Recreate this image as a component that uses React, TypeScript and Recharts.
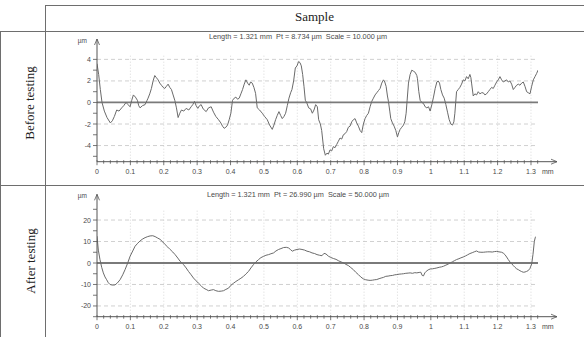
import React from 'react';
import { LineChart, Line, XAxis, YAxis, ReferenceLine } from 'recharts';

// ---------- data ----------
const xMajorTicks = [0, 0.1, 0.2, 0.3, 0.4, 0.5, 0.6, 0.7, 0.8, 0.9, 1, 1.1, 1.2, 1.3];
const xMinorTicks = [0, 0.02, 0.04, 0.06, 0.08, 0.1, 0.12, 0.14, 0.16, 0.18, 0.2, 0.22, 0.24, 0.26, 0.28, 0.3, 0.32, 0.34, 0.36, 0.38, 0.4, 0.42, 0.44, 0.46, 0.48, 0.5, 0.52, 0.54, 0.56, 0.58, 0.6, 0.62, 0.64, 0.66, 0.68, 0.7, 0.72, 0.74, 0.76, 0.78, 0.8, 0.82, 0.84, 0.86, 0.88, 0.9, 0.92, 0.94, 0.96, 0.98, 1, 1.02, 1.04, 1.06, 1.08, 1.1, 1.12, 1.14, 1.16, 1.18, 1.2, 1.22, 1.24, 1.26, 1.28, 1.3, 1.32];

const beforeYMajor = [-4, -2, 0, 2, 4];
const beforeYMinor = [-5, -4, -3, -2, -1, 0, 1, 2, 3, 4];
const beforeYRight = [-5.5, -4.5, -3.5, -2.5, -1.5, -0.5, 0.5, 1.5, 2.5, 3.5, 4.5];
const afterYMajor = [-20, -10, 0, 10, 20];
const afterYMinor = [-25, -20, -15, -10, -5, 0, 5, 10, 15, 20, 25];

const beforeTitle = 'Length = 1.321 mm  Pt = 8.734 µm  Scale = 10.000 µm';
const afterTitle = 'Length = 1.321 mm  Pt = 26.990 µm  Scale = 50.000 µm';

const beforeX = [0.000, 0.005, 0.010, 0.015, 0.022, 0.030, 0.040, 0.046, 0.052, 0.059, 0.066, 0.074, 0.080, 0.087, 0.093, 0.099, 0.104, 0.109, 0.115, 0.121, 0.125, 0.129, 0.136, 0.144, 0.150, 0.153, 0.158, 0.163, 0.168, 0.173, 0.178, 0.183, 0.188, 0.193, 0.198, 0.203, 0.208, 0.213, 0.218, 0.223, 0.228, 0.233, 0.238, 0.243, 0.248, 0.253, 0.260, 0.267, 0.275, 0.282, 0.287, 0.292, 0.297, 0.302, 0.307, 0.312, 0.318, 0.327, 0.334, 0.342, 0.349, 0.356, 0.364, 0.371, 0.376, 0.381, 0.386, 0.391, 0.396, 0.401, 0.406, 0.411, 0.416, 0.421, 0.426, 0.431, 0.436, 0.441, 0.446, 0.451, 0.456, 0.460, 0.465, 0.470, 0.475, 0.480, 0.487, 0.495, 0.502, 0.510, 0.517, 0.525, 0.530, 0.535, 0.540, 0.545, 0.550, 0.555, 0.560, 0.565, 0.570, 0.575, 0.580, 0.584, 0.589, 0.594, 0.599, 0.604, 0.608, 0.612, 0.616, 0.620, 0.624, 0.628, 0.634, 0.640, 0.645, 0.650, 0.655, 0.660, 0.664, 0.669, 0.673, 0.679, 0.684, 0.689, 0.693, 0.698, 0.703, 0.708, 0.713, 0.718, 0.723, 0.728, 0.733, 0.738, 0.743, 0.748, 0.753, 0.758, 0.763, 0.768, 0.773, 0.778, 0.783, 0.788, 0.793, 0.798, 0.803, 0.808, 0.813, 0.818, 0.823, 0.828, 0.833, 0.838, 0.843, 0.848, 0.853, 0.858, 0.862, 0.866, 0.870, 0.873, 0.877, 0.880, 0.885, 0.890, 0.895, 0.900, 0.904, 0.908, 0.913, 0.918, 0.922, 0.926, 0.929, 0.933, 0.938, 0.943, 0.948, 0.953, 0.958, 0.960, 0.964, 0.968, 0.973, 0.978, 0.983, 0.988, 0.993, 0.998, 1.003, 1.008, 1.013, 1.018, 1.022, 1.026, 1.030, 1.035, 1.040, 1.045, 1.050, 1.055, 1.060, 1.065, 1.069, 1.072, 1.077, 1.082, 1.087, 1.092, 1.097, 1.102, 1.107, 1.112, 1.117, 1.120, 1.122, 1.127, 1.132, 1.137, 1.142, 1.147, 1.152, 1.157, 1.162, 1.167, 1.172, 1.177, 1.182, 1.187, 1.192, 1.197, 1.202, 1.207, 1.212, 1.217, 1.222, 1.227, 1.232, 1.237, 1.242, 1.247, 1.252, 1.257, 1.262, 1.267, 1.272, 1.277, 1.282, 1.287, 1.292, 1.297, 1.302, 1.307, 1.312, 1.317, 1.321];
const beforeY = [3.6, 2.6, 1.2, 0.0, -0.8, -1.4, -1.9, -1.7, -1.3, -0.7, -0.8, -0.5, -0.3, 0.0, -0.2, -0.4, 0.2, 0.7, 0.5, 0.2, -0.3, -0.5, -0.3, -0.2, 0.2, 0.4, 0.8, 1.3, 2.0, 2.5, 2.3, 2.1, 1.8, 1.6, 1.4, 1.3, 1.5, 1.7, 1.4, 1.2, 0.7, 0.2, -0.5, -1.4, -1.0, -0.7, -0.8, -0.55, -0.7, -0.4, -0.2, 0.1, -0.3, -0.55, -0.3, -0.2, -0.6, -0.85, -0.5, -0.4, -0.9, -1.3, -1.6, -1.9, -2.2, -2.4, -2.3, -2.1, -1.6, -1.0, 0.2, 0.4, 0.5, 0.3, 0.4, 0.8, 1.2, 1.7, 2.1, 1.8, 1.6, 1.9, 1.8, 1.4, 0.85, -0.5, -0.7, -1.0, -1.3, -1.6, -2.1, -2.5, -2.1, -1.6, -1.2, -0.85, -1.2, -1.5, -1.3, -1.0, -0.3, 0.4, 0.9, 1.2, 2.0, 3.2, 3.4, 3.8, 3.7, 3.4, 2.6, 1.5, 0.2, 0.0, -0.5, -0.6, -1.0, -0.7, -0.2, -0.4, -1.6, -2.0, -2.6, -4.3, -4.9, -4.7, -4.8, -4.4, -4.5, -4.1, -4.2, -3.9, -3.6, -3.3, -3.4, -3.0, -2.9, -2.7, -2.3, -2.2, -1.8, -1.6, -1.5, -1.9, -2.2, -2.6, -2.8, -2.0, -1.5, -1.2, -1.0, -0.4, 0.1, 0.4, 0.7, 0.9, 1.1, 1.3, 1.8, 2.1, 1.9, 1.5, 0.6, 0.1, -0.8, -1.5, -1.9, -2.2, -2.6, -3.2, -2.8, -2.5, -2.3, -2.1, -1.8, -1.0, 0.2, 1.8, 2.6, 3.0, 2.9, 2.8, 2.5, 2.2, 1.0, 0.2, 0.0, -0.1, -0.4, -0.5, -0.4, -0.8, -0.2, 0.5, 1.3, 1.9, 2.0, 1.8, 1.2, 0.7, 0.4, -0.2, -0.9, -1.6, -2.0, -2.1, -1.8, -1.0, 1.0, 1.2, 1.4, 1.7, 2.1, 2.0, 2.4, 2.2, 2.6, 2.3, 1.8, 0.6, 0.8, 0.7, 1.0, 0.8, 0.9, 0.9, 0.7, 0.8, 1.0, 1.2, 1.4, 1.3, 1.6, 1.9, 2.1, 2.4, 2.1, 1.9, 2.0, 2.1, 1.9, 2.0, 1.7, 1.2, 1.4, 1.6, 1.7, 1.6, 1.8, 1.9, 1.5, 1.0, 0.9, 0.8, 1.5, 2.1, 2.4, 2.7, 3.0];

const afterX = [0.000, 0.004, 0.009, 0.014, 0.019, 0.024, 0.029, 0.034, 0.039, 0.046, 0.054, 0.061, 0.069, 0.077, 0.084, 0.092, 0.099, 0.107, 0.114, 0.122, 0.129, 0.137, 0.144, 0.152, 0.159, 0.167, 0.174, 0.182, 0.189, 0.197, 0.204, 0.212, 0.219, 0.227, 0.234, 0.242, 0.249, 0.259, 0.267, 0.274, 0.282, 0.289, 0.297, 0.304, 0.312, 0.319, 0.327, 0.334, 0.342, 0.349, 0.356, 0.364, 0.372, 0.379, 0.386, 0.394, 0.401, 0.409, 0.416, 0.424, 0.431, 0.439, 0.446, 0.454, 0.461, 0.469, 0.476, 0.484, 0.491, 0.499, 0.506, 0.514, 0.521, 0.529, 0.536, 0.544, 0.551, 0.559, 0.567, 0.574, 0.580, 0.585, 0.592, 0.599, 0.607, 0.614, 0.622, 0.629, 0.637, 0.644, 0.652, 0.659, 0.667, 0.674, 0.680, 0.686, 0.693, 0.700, 0.708, 0.716, 0.724, 0.731, 0.738, 0.745, 0.753, 0.760, 0.768, 0.775, 0.783, 0.790, 0.798, 0.805, 0.812, 0.818, 0.825, 0.832, 0.838, 0.845, 0.851, 0.858, 0.865, 0.872, 0.878, 0.885, 0.892, 0.898, 0.905, 0.912, 0.918, 0.925, 0.932, 0.938, 0.945, 0.952, 0.958, 0.965, 0.970, 0.974, 0.978, 0.982, 0.986, 0.992, 0.998, 1.005, 1.012, 1.018, 1.025, 1.032, 1.038, 1.045, 1.052, 1.058, 1.065, 1.071, 1.077, 1.084, 1.090, 1.097, 1.104, 1.110, 1.117, 1.124, 1.130, 1.137, 1.143, 1.150, 1.157, 1.163, 1.170, 1.177, 1.184, 1.190, 1.197, 1.204, 1.212, 1.217, 1.222, 1.227, 1.232, 1.237, 1.242, 1.247, 1.252, 1.257, 1.262, 1.267, 1.272, 1.277, 1.282, 1.287, 1.292, 1.297, 1.302, 1.306, 1.310, 1.313, 1.315];
const afterY = [12.5, 6.0, 1.5, -2.0, -4.6, -6.5, -7.8, -9.2, -10.0, -10.3, -10.2, -9.3, -7.8, -5.5, -3.1, 0.0, 3.1, 5.6, 7.8, 9.2, 10.3, 11.2, 11.8, 12.3, 12.6, 12.7, 12.3, 11.6, 11.0, 9.8, 8.6, 7.4, 6.3, 5.1, 3.9, 2.3, 0.8, -0.7, -2.3, -3.9, -5.5, -7.0, -8.3, -9.4, -10.6, -11.7, -12.3, -12.9, -12.6, -12.4, -12.9, -13.2, -13.1, -12.9, -12.3, -11.7, -10.4, -9.4, -8.6, -7.8, -7.1, -6.2, -5.1, -3.9, -2.3, -0.7, 0.5, 1.6, 2.5, 3.1, 3.6, 3.9, 4.3, 4.7, 5.6, 6.3, 6.7, 7.2, 7.3, 7.0, 6.2, 5.5, 6.0, 6.3, 6.5, 6.3, 6.0, 5.5, 5.2, 4.7, 4.4, 3.9, 3.6, 3.4, 4.5, 4.2, 3.2, 2.6, 2.1, 1.7, 1.0, 0.5, 0.1, -0.6, -1.2, -2.1, -3.1, -4.3, -5.4, -6.5, -7.4, -7.8, -8.0, -8.1, -8.0, -7.8, -7.7, -7.3, -7.0, -6.7, -6.2, -6.1, -5.9, -5.8, -5.5, -5.4, -5.2, -5.1, -5.0, -4.8, -4.7, -4.6, -4.8, -4.5, -4.6, -4.4, -4.3, -5.8, -6.0, -4.6, -3.9, -3.2, -2.8, -2.7, -2.5, -2.3, -2.0, -1.8, -1.5, -1.0, -0.5, 0.0, 0.6, 1.1, 1.6, 2.0, 2.4, 2.8, 3.3, 3.8, 4.4, 4.8, 5.2, 5.6, 5.1, 5.0, 5.0, 5.1, 5.2, 5.2, 5.1, 5.3, 5.4, 5.2, 5.0, 4.6, 3.9, 2.8, 1.6, 0.5, -0.3, -1.2, -2.0, -2.7, -3.1, -3.6, -4.0, -4.3, -4.2, -3.9, -3.5, -2.5, -0.5, 4.0, 10.0, 12.0, 12.3];

const beforeData = beforeX.map((x, i) => ({ x, y: beforeY[i] }));
const afterData = afterX.map((x, i) => ({ x, y: afterY[i] }));

// ---------- styles ----------
const AXIS = '#555';
const TEXT = '#4a4a4a';
const SANS = '"Liberation Sans", Arial, sans-serif';
const SERIF = '"Liberation Serif", "Times New Roman", serif';
const TABLE = '#6e6e6e';

const near = (list: number[], v: number) => list.some((m) => Math.abs(m - v) < 1e-6);

const BottomTick = (props: any) => {
  const { x, y, payload } = props;
  const v = payload.value;
  const major = near(xMajorTicks, v);
  return (
    <g>
      <line x1={x} y1={y - 1.5} x2={x} y2={y + (major ? 3.5 : 2)} stroke={AXIS} strokeWidth={0.8} />
      {major && (
        <text x={x} y={y + 10} textAnchor="middle" dominantBaseline="central" fontSize={7} fontFamily={SANS} fill={TEXT}>
          {String(v)}
        </text>
      )}
    </g>
  );
};

const makeLeftTick = (majors: number[]) => (props: any) => {
  const { x, y, payload } = props;
  const v = payload.value;
  const major = near(majors, v);
  return (
    <g>
      <line x1={x - 4} y1={y} x2={x} y2={y} stroke={AXIS} strokeWidth={0.8} />
      {major && (
        <text x={x - 6} y={y} textAnchor="end" dominantBaseline="central" fontSize={7} fontFamily={SANS} fill={TEXT}>
          {String(v)}
        </text>
      )}
    </g>
  );
};

const TopTick = (props: any) => {
  const { x, y } = props;
  return <line x1={x} y1={y - 2} x2={x} y2={y + 2} stroke={AXIS} strokeWidth={0.8} />;
};

const RightTick = (props: any) => {
  const { x, y } = props;
  return <line x1={x - 2} y1={y} x2={x + 2} y2={y} stroke={AXIS} strokeWidth={0.8} />;
};

const YArrow = (props: any) => {
  const vb = props.viewBox || {};
  const ax = vb.x + vb.width;
  const top = vb.y;
  return (
    <g>
      <line x1={ax} y1={top} x2={ax} y2={top - 15} stroke={AXIS} strokeWidth={1} />
      <path d={`M${ax - 2.5} ${top - 9} L${ax} ${top - 15} L${ax + 2.5} ${top - 9}`} fill="none" stroke={AXIS} strokeWidth={0.8} />
      <text x={ax - 10} y={top - 14} textAnchor="end" dominantBaseline="central" fontSize={6.5} fontFamily={SANS} fill={TEXT}>
        µm
      </text>
    </g>
  );
};

const XArrow = (props: any) => {
  const vb = props.viewBox || {};
  const right = vb.x + vb.width;
  const ay = vb.y;
  return (
    <g>
      <line x1={right} y1={ay} x2={right + 19} y2={ay} stroke={AXIS} strokeWidth={1} />
      <path d={`M${right + 13} ${ay - 2.5} L${right + 19} ${ay} L${right + 13} ${ay + 2.5}`} fill="none" stroke={AXIS} strokeWidth={0.8} />
      <text x={right + 4} y={ay + 10} textAnchor="start" dominantBaseline="central" fontSize={7} fontFamily={SANS} fill={TEXT}>
        mm
      </text>
    </g>
  );
};

type ProfileProps = {
  data: { x: number; y: number }[];
  yDomain: [number, number];
  yMajor: number[];
  yMinor: number[];
  yRight: number[];
  height: number;
  margin: { top: number; right: number; bottom: number; left: number };
};

const Profile = ({ data, yDomain, yMajor, yMinor, yRight, height, margin }: ProfileProps) => {
  const LeftTick = makeLeftTick(yMajor);
  return (
    <LineChart width={584} height={height} data={data} margin={margin}>
      <XAxis
        dataKey="x"
        type="number"
        domain={[0, 1.321]}
        allowDataOverflow
        ticks={xMinorTicks}
        interval={0}
        tickLine={false}
        tickSize={0}
        tickMargin={0}
        height={20}
        axisLine={{ stroke: AXIS, strokeWidth: 1 }}
        tick={<BottomTick />}
        label={(p: any) => <XArrow {...p} />}
      />
      <XAxis
        xAxisId="top"
        orientation="top"
        dataKey="x"
        type="number"
        domain={[0, 1.321]}
        allowDataOverflow
        ticks={xMinorTicks}
        interval={0}
        tickLine={false}
        tickSize={0}
        tickMargin={0}
        height={0}
        axisLine={{ stroke: AXIS, strokeWidth: 1 }}
        tick={<TopTick />}
      />
      <YAxis
        type="number"
        domain={yDomain}
        allowDataOverflow
        ticks={yMinor}
        interval={0}
        tickLine={false}
        tickSize={0}
        tickMargin={0}
        width={30}
        axisLine={{ stroke: AXIS, strokeWidth: 1 }}
        tick={<LeftTick />}
        label={(p: any) => <YArrow {...p} />}
      />
      <YAxis
        yAxisId="right"
        orientation="right"
        type="number"
        domain={yDomain}
        allowDataOverflow
        ticks={yRight}
        interval={0}
        tickLine={false}
        tickSize={0}
        tickMargin={0}
        width={0}
        axisLine={{ stroke: AXIS, strokeWidth: 1 }}
        tick={<RightTick />}
      />
      {xMajorTicks
        .filter((t) => t > 0)
        .map((t) => (
          <ReferenceLine key={'vx' + t} x={t} stroke="#cfcfcf" strokeWidth={0.8} strokeDasharray="1 2" />
        ))}
      {yMajor
        .filter((t) => t !== 0)
        .map((t) => (
          <ReferenceLine key={'hy' + t} y={t} stroke="#c4c4c4" strokeWidth={0.8} strokeDasharray="4 3" />
        ))}
      <ReferenceLine y={0} stroke="#7a7a7a" strokeWidth={1.8} />
      <Line type="linear" dataKey="y" stroke="#6a6a6a" strokeWidth={1} dot={false} isAnimationActive={false} />
    </LineChart>
  );
};

const lineStyle = (s: React.CSSProperties): React.CSSProperties => ({ position: 'absolute', background: TABLE, ...s });

export default function App() {
  return (
    <div style={{ position: 'absolute', left: 0, top: 0, width: 584, height: 337, background: '#fff', overflow: 'hidden' }}>
      <div style={{ position: 'absolute', left: 0, top: 0 }}>
        <Profile
          data={beforeData}
          yDomain={[-5.5, 4.5]}
          yMajor={beforeYMajor}
          yMinor={beforeYMinor}
          yRight={beforeYRight}
          height={185}
          margin={{ top: 54, right: 46, bottom: 3.3, left: 67 }}
        />
      </div>
      <div style={{ position: 'absolute', left: 0, top: 185 }}>
        <Profile
          data={afterData}
          yDomain={[-25, 25]}
          yMajor={afterYMajor}
          yMinor={afterYMinor}
          yRight={afterYMinor}
          height={152}
          margin={{ top: 24.3, right: 46, bottom: 0.3, left: 67 }}
        />
      </div>

      {/* chart titles */}
      <div style={{ position: 'absolute', left: 148, width: 300, top: 33, textAlign: 'center', fontFamily: SANS, fontSize: 7.3, color: TEXT, whiteSpace: 'pre', lineHeight: '8px' }}>
        {beforeTitle}
      </div>
      <div style={{ position: 'absolute', left: 148, width: 300, top: 191, textAlign: 'center', fontFamily: SANS, fontSize: 7.3, color: TEXT, whiteSpace: 'pre', lineHeight: '8px' }}>
        {afterTitle}
      </div>

      {/* table frame */}
      <div style={lineStyle({ left: 45, top: 5, width: 539, height: 1 })} />
      <div style={lineStyle({ left: 0, top: 31, width: 584, height: 1 })} />
      <div style={lineStyle({ left: 0, top: 185, width: 584, height: 1 })} />
      <div style={lineStyle({ left: 45, top: 5, width: 1, height: 332 })} />
      <div style={lineStyle({ left: 0, top: 31, width: 1, height: 306 })} />

      {/* table texts */}
      <div style={{ position: 'absolute', left: 45, width: 539, top: 9, textAlign: 'center', fontFamily: SERIF, fontSize: 13, color: '#222', lineHeight: '16px' }}>
        Sample
      </div>
      <div style={{ position: 'absolute', left: 29, top: 103, transform: 'translate(-50%, -50%) rotate(-90deg)', fontFamily: SERIF, fontSize: 13, color: '#222', whiteSpace: 'nowrap', lineHeight: '15px' }}>
        Before testing
      </div>
      <div style={{ position: 'absolute', left: 30, top: 261, transform: 'translate(-50%, -50%) rotate(-90deg)', fontFamily: SERIF, fontSize: 13, color: '#222', whiteSpace: 'nowrap', lineHeight: '15px' }}>
        After testing
      </div>
    </div>
  );
}
